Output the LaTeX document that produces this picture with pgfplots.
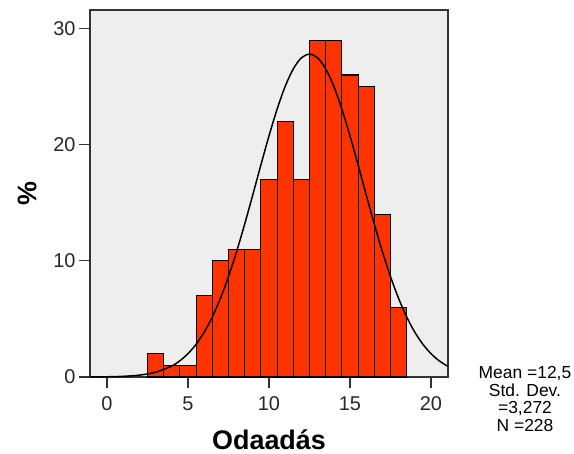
\documentclass[border=0pt]{standalone}
\usepackage{fontspec}
\setmainfont{Liberation Sans}
\usepackage{pgfplots}
\pgfplotsset{compat=1.18}
\definecolor{barred}{RGB}{255,51,0}
\definecolor{panel}{RGB}{238,238,238}

\begin{document}
\begin{tikzpicture}[x=1bp,y=1bp]
  \useasboundingbox (-90bp,-77bp) rectangle (484bp,377bp);
  \begin{axis}[
    at={(0bp,0bp)}, anchor=south west,
    scale only axis,
    width=358bp,
    height=367bp,
    xmin=-1.05, xmax=21.05,
    ymin=0, ymax=31.6,
    xtick={0,5,10,15,20},
    ytick={0,10,20,30},
    tick pos=left,
    tick align=outside,
    major tick length=11bp,
    every tick/.style={black!80,line width=1.2bp},
    axis line style={black!80,line width=1.2bp},
    axis background/.style={fill=panel},
    /pgf/number format/assume math mode=true,
    ticklabel style={font=\fontsize{20}{20}\selectfont, text=black!85},
    xticklabel style={yshift=-5bp},
    xlabel={\textbf{Odaadás}},
    ylabel={\textbf{\%}},
    xlabel style={font=\fontsize{27}{27}\selectfont, at={(axis description cs:0.5,0)}, anchor=center, yshift=-63bp},
    ylabel style={font=\fontsize{27}{27}\selectfont, at={(axis description cs:0,0.5)}, anchor=center, yshift=63bp},
  ]
    \addplot[ybar, bar width=1, bar shift=0pt, fill=barred, draw=black, line width=1.1bp]
      coordinates {
        (3,2) (4,1) (5,1) (6,7) (7,10) (8,11) (9,11) (10,17)
        (11,22) (12,17) (13,29) (14,29) (15,26) (16,25) (17,14) (18,6)
      };
    % fitted normal curve, mean 12.5, sd 3.272, N 228
    \addplot[smooth, black, line width=1.5bp] coordinates {
      (-1.1,0.005) (0,0.019) (1,0.058) (2,0.161) (3,0.41) (4,0.95) (4.5,1.40)
      (5,2.01) (5.5,2.82) (6,3.86) (6.5,5.17) (7,6.77) (7.5,8.65) (8,10.80)
      (8.5,13.17) (9,15.69) (9.5,18.26) (10,20.76) (10.5,23.06) (11,25.03)
      (11.5,26.53) (12,27.48) (12.5,27.80) (13,27.48) (13.5,26.53) (14,25.03)
      (14.5,23.06) (15,20.76) (15.5,18.26) (16,15.69) (16.5,13.17) (17,10.80)
      (17.5,8.65) (18,6.77) (18.5,5.17) (19,3.86) (19.5,2.82) (20,2.01)
      (20.5,1.40) (21,0.95) (21.1,0.91)
    };
  \end{axis}
  \node[align=center, font=\fontsize{17.5}{17.5}\selectfont, inner sep=0pt]
    at (435bp,-22bp) {Mean =12,5\\Std. Dev.\\=3,272\\N =228};
\end{tikzpicture}
\end{document}
